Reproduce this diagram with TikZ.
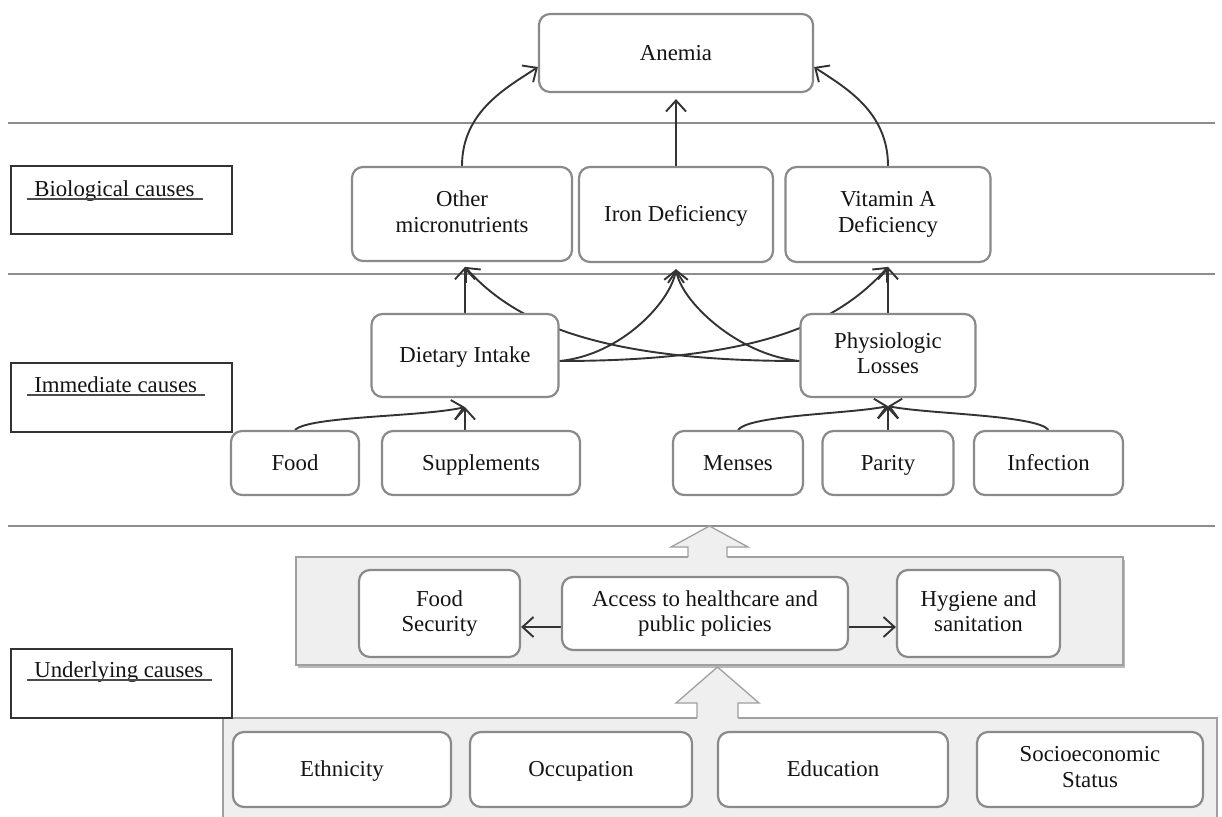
\documentclass[tikz,border=0pt]{standalone}
\usepackage{fontspec}
\setmainfont{Liberation Serif}
\usetikzlibrary{arrows.meta,calc,shadows}
\definecolor{boxline}{HTML}{8A8A8A}
\definecolor{connc}{HTML}{333333}
\definecolor{panelfill}{HTML}{EFEFEF}
\definecolor{panelline}{HTML}{A0A0A0}
\definecolor{sepc}{HTML}{8E8E8E}
\definecolor{txt}{HTML}{141414}
\pgfdeclarelayer{bg}
\pgfdeclarelayer{mid}
\pgfsetlayers{bg,mid,main}
\begin{document}
\begin{tikzpicture}[x=1pt,y=-1pt,
  font=\fontsize{22.8}{25.5}\selectfont,
  cbox/.style={draw=boxline, line width=2.2pt, rounded corners=11pt, fill=white,
    align=center, inner sep=0pt, text=txt,
    execute at begin node={\rule[-5pt]{0pt}{24pt}},
    execute at end node={\rule[-5pt]{0pt}{24pt}}},
  lbox/.style={draw=black!80, line width=1.8pt, inner sep=0pt},
  ltext/.style={anchor=base west, inner sep=0pt, text=txt},
  uline/.style={draw=black!70, line width=1.5pt},
  panelbox/.style={draw=panelline, line width=1.3pt, fill=panelfill, inner sep=0pt},
  sepline/.style={draw=sepc, line width=1.4pt},
  blockarr/.style={draw=panelline, line width=1.3pt, fill=panelfill, line join=miter},
  arr/.style={draw=connc, line width=1.9pt,
    -{Straight Barb[length=11pt,width=20pt,line width=1.9pt]}}
]
\useasboundingbox (0,0) rectangle (1222,816);

% ---------- background: separators, panels, block arrows ----------
\begin{pgfonlayer}{bg}
\fill[white] (0,0) rectangle (1222,816);
\draw[sepline] (8,123) -- (1215,123);
\draw[sepline] (8,274) -- (1215,274);
\draw[sepline] (8,526) -- (1215,526);

\node[panelbox, minimum width=827pt, minimum height=108pt,
  drop shadow={shadow xshift=1.5pt, shadow yshift=-2.5pt, fill=black!45, opacity=0.6}]
  (upanel) at (709.5,611) {};
\node[panelbox, minimum width=994pt, minimum height=110pt] (lpanel) at (720,773) {};

% upper block arrow
\fill[panelfill] (688,560) -- (688,547) -- (671,547) -- (709.5,526) -- (748,547) -- (727,547) -- (727,560) -- cycle;
\draw[blockarr] (688,557) -- (688,547) -- (671,547) -- (709.5,526) -- (748,547) -- (727,547) -- (727,557);
% lower block arrow
\fill[panelfill] (697,721) -- (697,703) -- (676,703) -- (717.5,667) -- (759,703) -- (738,703) -- (738,721) -- cycle;
\draw[blockarr] (697,718) -- (697,703) -- (676,703) -- (717.5,667) -- (759,703) -- (738,703) -- (738,718);
\end{pgfonlayer}

% ---------- left labels ----------
\node[lbox, minimum width=221pt, minimum height=68pt] (bio) at (121.5,200) {};
\node[ltext] (biot) at ($(bio.north west)+(24,31)$) {Biological causes};
\draw[uline] ($(biot.base west)+(-7,3)$) -- ($(biot.base east)+(8,3)$);
\node[lbox, minimum width=221pt, minimum height=69pt] (imm) at (121.5,397.5) {};
\node[ltext] (immt) at ($(imm.north west)+(24,30)$) {Immediate causes};
\draw[uline] ($(immt.base west)+(-7,3)$) -- ($(immt.base east)+(8,3)$);
\node[lbox, minimum width=221pt, minimum height=69pt] (und) at (121.5,683.5) {};
\node[ltext] (undt) at ($(und.north west)+(24,29)$) {Underlying causes};
\draw[uline] ($(undt.base west)+(-7,3)$) -- ($(undt.base east)+(8,3)$);

% ---------- boxes ----------
\node[cbox, minimum width=274pt, minimum height=78pt] (anemia) at (676,53) {Anemia};

\node[cbox, minimum width=220pt, minimum height=94pt] (other) at (462,214) {Other\\micronutrients};
\node[cbox, minimum width=194pt, minimum height=95pt] (iron) at (676,214.5) {Iron Deficiency};
\node[cbox, minimum width=205pt, minimum height=95pt] (vit) at (888,214.5) {Vitamin A\\Deficiency};

\node[cbox, minimum width=187pt, minimum height=83pt] (diet) at (465,355.5) {Dietary Intake};
\node[cbox, minimum width=175pt, minimum height=83pt] (phys) at (888,355.5) {Physiologic\\Losses};

\node[cbox, minimum width=128pt, minimum height=64pt] (food) at (295,463) {Food};
\node[cbox, minimum width=198pt, minimum height=64pt] (supp) at (481,463) {Supplements};
\node[cbox, minimum width=130pt, minimum height=64pt] (menses) at (738,463) {Menses};
\node[cbox, minimum width=131pt, minimum height=64pt] (parity) at (888,463) {Parity};
\node[cbox, minimum width=149pt, minimum height=64pt] (infect) at (1048.5,463) {Infection};

\node[cbox, minimum width=161pt, minimum height=87pt] (fsec) at (439.5,613.5) {Food\\Security};
\node[cbox, minimum width=286pt, minimum height=73pt] (access) at (705,613.5) {Access to healthcare and\\public policies};
\node[cbox, minimum width=163pt, minimum height=87pt] (hyg) at (978.5,613.5) {Hygiene and\\sanitation};

\node[cbox, minimum width=218pt, minimum height=75pt] (eth) at (342,769.5) {Ethnicity};
\node[cbox, minimum width=222pt, minimum height=75pt] (occ) at (581,769.5) {Occupation};
\node[cbox, minimum width=230pt, minimum height=75pt] (edu) at (833,769.5) {Education};
\node[cbox, minimum width=226pt, minimum height=75pt] (ses) at (1090,769.5) {Socioeconomic\\Status};

% ---------- connectors ----------
\coordinate (tO) at ($(diet.north)+(0,-46)$);
\coordinate (tV) at ($(phys.north)+(0,-46)$);
\coordinate (tI) at ($(iron.south)+(0,6)$);
\coordinate (dE) at ($(diet.east)+(0,5.5)$);
\coordinate (pW) at ($(phys.west)+(0,5.5)$);
\coordinate (tD) at ($(diet.south)+(0,9)$);
\coordinate (tP) at ($(phys.south)+(0,8)$);

\begin{pgfonlayer}{mid}
% to Anemia
\draw[arr] (other.north) .. controls ($(other.north)+(0,-55)$) and ($(anemia.west)+(-30,34)$) .. ($(anemia.west)+(0,14)$);
\draw[arr, shorten >=6pt] (iron.north) -- (anemia.south);
\draw[arr] (vit.north) .. controls ($(vit.north)+(0,-55)$) and ($(anemia.east)+(30,34)$) .. ($(anemia.east)+(0,14)$);

% immediate -> biological
\draw[arr] (diet.north) -- (tO);
\draw[arr] (phys.north) -- (tV);
\draw[arr] (pW) .. controls ($(pW)+(-200,0)$) and ($(tO)+(50,56)$) .. (tO);
\draw[arr] (dE) .. controls ($(dE)+(200,0)$) and ($(tV)+(-50,56)$) .. (tV);
\draw[arr] (dE) .. controls ($(dE)+(62,-6)$) and ($(tI)+(-5,32)$) .. (tI);
\draw[arr] (pW) .. controls ($(pW)+(-62,-6)$) and ($(tI)+(5,32)$) .. (tI);

% lower immediate row
\draw[arr] (food.north) .. controls ($(food.north)+(15,-14)$) and ($(tD)+(-45,10)$) .. (tD);
\draw[arr] (diet.south |- supp.north) -- (tD);
\draw[arr] (menses.north) .. controls ($(menses.north)+(12,-15)$) and ($(tP)+(-40,8)$) .. (tP);
\draw[arr] (parity.north) -- (tP);
\draw[arr] (infect.north) .. controls ($(infect.north)+(-12,-15)$) and ($(tP)+(40,8)$) .. (tP);

% underlying
\draw[arr] ($(access.west)+(0,13.5)$) -- ($(fsec.east)+(0,13.5)$);
\draw[arr] ($(access.east)+(0,13.5)$) -- ($(hyg.west)+(0,13.5)$);
\end{pgfonlayer}
\end{tikzpicture}
\end{document}
